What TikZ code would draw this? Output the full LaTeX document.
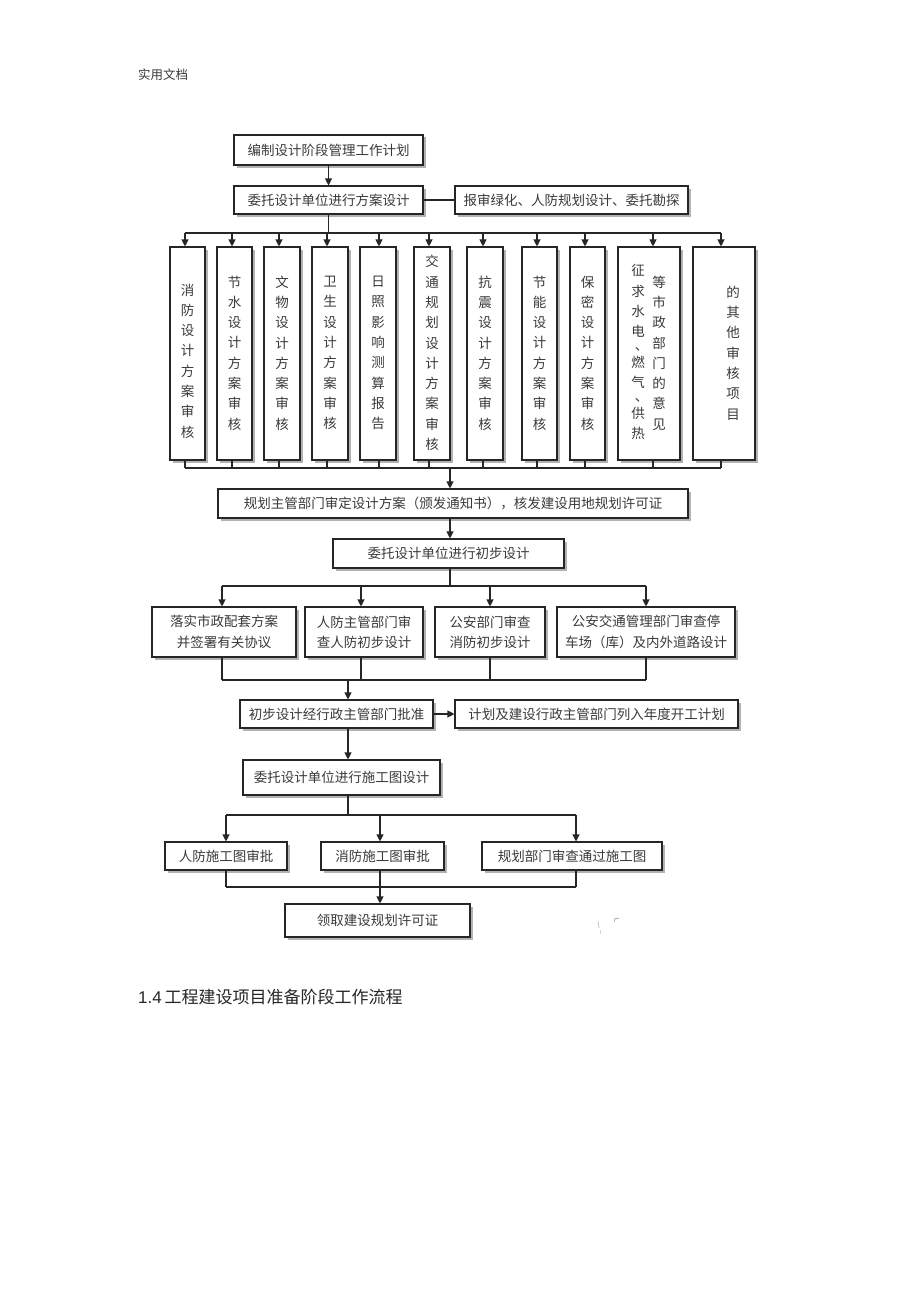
\documentclass[tikz,border=0pt]{standalone}
\usepackage{fontspec}
\setmainfont{Liberation Sans}
\newfontfamily\cjk{Noto Sans CJK SC}
\usetikzlibrary{arrows.meta,shadows}
\definecolor{txt}{HTML}{3A3A3A}
\definecolor{lncol}{HTML}{262626}
\begin{document}
\begin{tikzpicture}[x=1pt,y=-1pt,
  box/.style={draw=lncol, line width=1.1pt, fill=white, inner sep=0pt, text=txt,
    font=\cjk\fontsize{13.5}{20.3}\selectfont, align=center,
    drop shadow={shadow xshift=2.5pt, shadow yshift=-2.5pt, fill=gray!60, opacity=1}},
  vtext/.style={inner sep=0pt, text=txt, font=\cjk\fontsize{13.5}{20.3}\selectfont, align=center},
  arr/.style={draw=lncol, line width=1.1pt, -{Triangle[length=7pt,width=7pt]}},
  conn/.style={draw=lncol, line width=1.1pt}]
\useasboundingbox (0,0) rectangle (920,1303);
\fill[white] (0,0) rectangle (920,1303);

% header and heading
\node[anchor=west, inner sep=0pt, text=txt, font=\cjk\fontsize{12.5}{14}\selectfont] (hdr) at (138,75) {实用文档};
\node[anchor=west, inner sep=0pt, text=black!85, font=\fontsize{17}{20}\selectfont] (ttl) at (138,997) {1.4\,{\cjk 工程建设项目准备阶段工作流程}};

% top boxes
\node[box, minimum width=189pt, minimum height=30pt] (b1) at (328.5,150) {编制设计阶段管理工作计划};
\node[box, minimum width=189pt, minimum height=28pt] (b2) at (328.5,200) {委托设计单位进行方案设计};
\node[box, minimum width=233pt, minimum height=28pt] (b3) at (571.5,200) {报审绿化、人防规划设计、委托勘探};
\draw[arr] (b1) -- (b2);
\draw[conn] (b2) -- (b3);

% vertical boxes
\node[box, minimum width=35pt, minimum height=213pt] (v1) at (187.5,353.5) {};
\node[box, minimum width=35pt, minimum height=213pt] (v2) at (234.5,353.5) {};
\node[box, minimum width=36pt, minimum height=213pt] (v3) at (282,353.5) {};
\node[box, minimum width=36pt, minimum height=213pt] (v4) at (330,353.5) {};
\node[box, minimum width=36pt, minimum height=213pt] (v5) at (378,353.5) {};
\node[box, minimum width=36pt, minimum height=213pt] (v6) at (432,353.5) {};
\node[box, minimum width=36pt, minimum height=213pt] (v7) at (485,353.5) {};
\node[box, minimum width=35pt, minimum height=213pt] (v8) at (539.5,353.5) {};
\node[box, minimum width=35pt, minimum height=213pt] (v9) at (587.5,353.5) {};
\node[box, minimum width=62pt, minimum height=213pt] (v10) at (649,353.5) {};
\node[box, minimum width=62pt, minimum height=213pt] (v11) at (724,353.5) {};

\node[vtext] (t1) at (187.5,361) {消\\防\\设\\计\\方\\案\\审\\核};
\node[vtext] (t2) at (234.5,353) {节\\水\\设\\计\\方\\案\\审\\核};
\node[vtext] (t3) at (282,353) {文\\物\\设\\计\\方\\案\\审\\核};
\node[vtext] (t4) at (330,353) {卫\\生\\设\\计\\方\\案\\审\\核};
\node[vtext] (t5) at (378,353) {日\\照\\影\\响\\测\\算\\报\\告};
\node[vtext] (t6) at (432,353) {交\\通\\规\\划\\设\\计\\方\\案\\审\\核};
\node[vtext] (t7) at (485,353) {抗\\震\\设\\计\\方\\案\\审\\核};
\node[vtext] (t8) at (539.5,353) {节\\能\\设\\计\\方\\案\\审\\核};
\node[vtext] (t9) at (587.5,353) {保\\密\\设\\计\\方\\案\\审\\核};
\node[vtext] (t10a) at (638,352) {征\\求\\水\\电\\[-6pt]\kern7pt、\\[-4pt]燃\\气\\[-6pt]\kern7pt、\\[-4pt]供\\热};
\node[vtext] (t10b) at (659,353) {等\\市\\政\\部\\门\\的\\意\\见};
\node[vtext] (t11) at (733,353) {的\\其\\他\\审\\核\\项\\目};

% top bus
\coordinate (tb) at (328.5,233);
\coordinate (a1) at (185,233);
\coordinate (a2) at (232,233);
\coordinate (a3) at (279,233);
\coordinate (a4) at (327,233);
\coordinate (a5) at (379,233);
\coordinate (a6) at (429,233);
\coordinate (a7) at (483,233);
\coordinate (a8) at (537,233);
\coordinate (a9) at (585,233);
\coordinate (a10) at (653,233);
\coordinate (a11) at (721,233);
\draw[conn] (b2.south) -- (tb);
\draw[conn] (a1) -- (a11);
\foreach \i in {1,...,11} { \draw[arr] (a\i) -- (a\i |- v\i.north); }

% bottom bus
\coordinate (bb) at (450,468);
\foreach \i in {1,...,11} { \draw[conn] (a\i |- v\i.south) -- (a\i |- bb); }
\draw[conn] (a1 |- bb) -- (a11 |- bb);

\node[box, minimum width=470pt, minimum height=29pt] (r1) at (453,503.5) {规划主管部门审定设计方案（颁发通知书），核发建设用地规划许可证};
\node[box, minimum width=231pt, minimum height=29pt] (r2) at (448.5,553.5) {委托设计单位进行初步设计};
\draw[arr] (bb) -- (bb |- r1.north);
\draw[arr] (bb |- r1.south) -- (bb |- r2.north);

% middle row
\node[box, minimum width=144pt, minimum height=50pt] (m1) at (224,632) {落实市政配套方案\\并签署有关协议};
\node[box, minimum width=118pt, minimum height=50pt] (m2) at (364,632) {人防主管部门审\\查人防初步设计};
\node[box, minimum width=110pt, minimum height=50pt] (m3) at (490,632) {公安部门审查\\消防初步设计};
\node[box, minimum width=178pt, minimum height=50pt] (m4) at (646,632) {公安交通管理部门审查停\\车场（库）及内外道路设计};
\coordinate (mb) at (450,586);
\coordinate (n1) at (222,586);
\coordinate (n2) at (361,586);
\coordinate (n3) at (490,586);
\coordinate (n4) at (646,586);
\draw[conn] (bb |- r2.south) -- (mb);
\draw[conn] (n1) -- (n4);
\foreach \i in {1,...,4} { \draw[arr] (n\i) -- (n\i |- m\i.north); }
\coordinate (lb) at (348,680);
\foreach \i in {1,...,4} { \draw[conn] (n\i |- m\i.south) -- (n\i |- lb); }
\draw[conn] (n1 |- lb) -- (n4 |- lb);

\node[box, minimum width=193pt, minimum height=28pt] (p1) at (336.5,714) {初步设计经行政主管部门批准};
\node[box, minimum width=283pt, minimum height=28pt] (p2) at (596.5,714) {计划及建设行政主管部门列入年度开工计划};
\draw[arr] (lb) -- (lb |- p1.north);
\draw[arr] (p1) -- (p2);

\node[box, minimum width=197pt, minimum height=35pt] (q1) at (341.5,777.5) {委托设计单位进行施工图设计};
\draw[arr] (lb |- p1.south) -- (lb |- q1.north);

% bottom row
\node[box, minimum width=122pt, minimum height=28pt] (s1) at (226,856) {人防施工图审批};
\node[box, minimum width=123pt, minimum height=28pt] (s2) at (382.5,856) {消防施工图审批};
\node[box, minimum width=180pt, minimum height=28pt] (s3) at (572,856) {规划部门审查通过施工图};
\coordinate (sb) at (348,815);
\coordinate (k1) at (226,815);
\coordinate (k2) at (380,815);
\coordinate (k3) at (576,815);
\draw[conn] (lb |- q1.south) -- (sb);
\draw[conn] (k1) -- (k3);
\foreach \i in {1,2,3} { \draw[arr] (k\i) -- (k\i |- s\i.north); }
\coordinate (fb) at (380,887);
\foreach \i in {1,2,3} { \draw[conn] (k\i |- s\i.south) -- (k\i |- fb); }
\draw[conn] (k1 |- fb) -- (k3 |- fb);

\node[box, minimum width=185pt, minimum height=33pt] (f1) at (377.5,920.5) {领取建设规划许可证};
\draw[arr] (fb) -- (fb |- f1.north);

% stray marks
\draw[gray!45, line width=0.8pt] (598,921) -- (599,928);
\draw[gray!35, line width=0.8pt] (600,930) -- (600,934);
\draw[gray!60, line width=1pt] (614,919) -- (619,918);
\draw[gray!60, line width=1pt] (614,919) -- (614,922);
\end{tikzpicture}
\end{document}
